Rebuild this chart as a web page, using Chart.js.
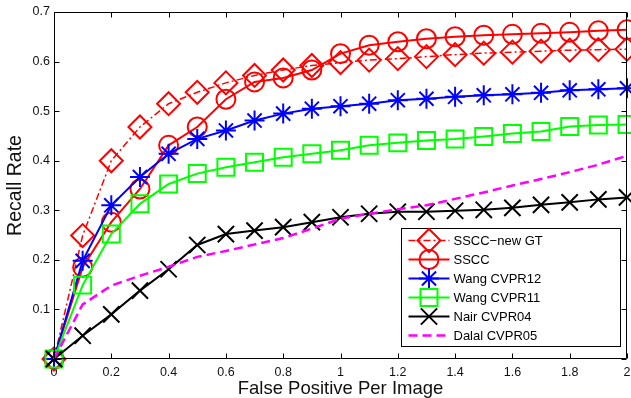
<!DOCTYPE html>
<html>
<head>
<meta charset="utf-8">
<script src="https://cdn.jsdelivr.net/npm/chart.js@4.4.1/dist/chart.umd.min.js"></script>
<style>
  html, body { margin: 0; padding: 0; background: #fff; }
  #wrap { width: 631px; height: 398px; position: relative; }
</style>
</head>
<body>
<div id="wrap"><canvas id="c" width="631" height="398"></canvas></div>
<script>
// ---- data ----
const fppi = [0, 0.1, 0.2, 0.3, 0.4, 0.5, 0.6, 0.7, 0.8, 0.9, 1.0, 1.1, 1.2, 1.3, 1.4, 1.5, 1.6, 1.7, 1.8, 1.9, 2.0];
const ssccNewGT = [0, 0.249, 0.400, 0.468, 0.515, 0.538, 0.557, 0.572, 0.583, 0.592, 0.598, 0.603, 0.606, 0.610, 0.614, 0.617, 0.619, 0.621, 0.623, 0.624, 0.625];
const sscc      = [0, 0.185, 0.276, 0.343, 0.431, 0.468, 0.524, 0.559, 0.567, 0.583, 0.616, 0.633, 0.640, 0.646, 0.650, 0.653, 0.655, 0.657, 0.659, 0.662, 0.664];
const wang12    = [0, 0.198, 0.310, 0.367, 0.414, 0.444, 0.461, 0.481, 0.495, 0.505, 0.510, 0.515, 0.522, 0.525, 0.529, 0.532, 0.534, 0.537, 0.542, 0.544, 0.546];
const wang11    = [0, 0.149, 0.252, 0.313, 0.353, 0.374, 0.387, 0.397, 0.407, 0.414, 0.421, 0.431, 0.436, 0.441, 0.444, 0.449, 0.455, 0.459, 0.469, 0.472, 0.473];
const nair04    = [0, 0.047, 0.090, 0.138, 0.181, 0.230, 0.252, 0.259, 0.266, 0.276, 0.286, 0.293, 0.297, 0.297, 0.299, 0.301, 0.305, 0.311, 0.316, 0.322, 0.326];
const dalal05   = [0, 0.110, 0.148, 0.168, 0.186, 0.206, 0.218, 0.231, 0.244, 0.263, 0.283, 0.293, 0.302, 0.310, 0.323, 0.336, 0.350, 0.363, 0.377, 0.392, 0.410];
const seriesNames = ['SSCC\u2212new GT', 'SSCC', 'Wang CVPR12', 'Wang CVPR11', 'Nair CVPR04', 'Dalal CVPR05'];
const xTickLabels = ['0', '0.2', '0.4', '0.6', '0.8', '1', '1.2', '1.4', '1.6', '1.8', '2'];
const yTickLabels = ['', '0.1', '0.2', '0.3', '0.4', '0.5', '0.6', '0.7'];

const pts = (arr) => fppi.map((x, i) => ({ x: x, y: arr[i] }));
const NONE = 'rgba(0,0,0,0)';

function ds(label, arr, color, style, radius, lineW, dash, order) {
  return {
    label: label, data: pts(arr),
    borderColor: color, backgroundColor: NONE,
    borderWidth: lineW, borderDash: dash,
    pointStyle: style, pointRadius: radius, pointHoverRadius: radius,
    pointBorderColor: color, pointBackgroundColor: NONE, pointBorderWidth: 2,
    tension: 0, fill: false, clip: false, order: order
  };
}

const datasets = [
  ds(seriesNames[0], ssccNewGT, '#ff0000', 'rectRot', 11.5, 1.5, [7, 3, 2, 3], 5),
  ds(seriesNames[1], sscc,      '#ff0000', 'circle', 9.5, 2, [], 4),
  ds(seriesNames[2], wang12,    '#0000ff', 'star', 10, 2, [], 3),
  ds(seriesNames[3], wang11,    '#00ff00', 'rect', 12, 2, [], 2),
  ds(seriesNames[4], nair04,    '#000000', 'crossRot', 11.5, 2, [], 1),
  ds(seriesNames[5], dalal05,   '#ff00ff', false, 0, 2.5, [9, 5], 0)
];

function drawMarker(ctx, style, x, y, r) {
  ctx.beginPath();
  if (style === 'rectRot') {
    ctx.moveTo(x - r, y); ctx.lineTo(x, y - r); ctx.lineTo(x + r, y); ctx.lineTo(x, y + r); ctx.closePath();
  } else if (style === 'circle') {
    ctx.arc(x, y, r, 0, Math.PI * 2);
  } else if (style === 'star') {
    for (let k = 0; k < 4; k++) {
      const a = k * Math.PI / 4;
      ctx.moveTo(x - Math.sin(a) * r, y - Math.cos(a) * r);
      ctx.lineTo(x + Math.sin(a) * r, y + Math.cos(a) * r);
    }
  } else if (style === 'rect') {
    const s = Math.SQRT1_2 * r;
    ctx.rect(x - s, y - s, 2 * s, 2 * s);
  } else if (style === 'crossRot') {
    const s = Math.SQRT1_2 * r;
    ctx.moveTo(x - s, y - s); ctx.lineTo(x + s, y + s);
    ctx.moveTo(x + s, y - s); ctx.lineTo(x - s, y + s);
  }
  ctx.stroke();
}

const framePlugin = {
  id: 'frame',
  afterDraw(chart) {
    const ctx = chart.ctx;
    const a = chart.chartArea;
    const xs = chart.scales.x, ys = chart.scales.y;
    const L = Math.round(a.left) + 0.5, R = Math.round(a.right) - 0.5;
    const T = Math.round(a.top) + 0.5, B = Math.round(a.bottom) - 0.5;
    ctx.save();
    ctx.strokeStyle = '#000';
    ctx.lineWidth = 1;
    ctx.setLineDash([]);
    ctx.beginPath();
    ctx.rect(L, T, R - L, B - T);
    const tl = 5;
    xs.ticks.forEach(t => {
      const px = Math.round(xs.getPixelForValue(t.value)) + 0.5;
      ctx.moveTo(px, B); ctx.lineTo(px, B - tl);
      ctx.moveTo(px, T); ctx.lineTo(px, T + tl);
    });
    ys.ticks.forEach(t => {
      const py = Math.round(ys.getPixelForValue(t.value)) + 0.5;
      ctx.moveTo(L, py); ctx.lineTo(L + tl, py);
      ctx.moveTo(R, py); ctx.lineTo(R - tl, py);
    });
    ctx.stroke();

    // legend box inside the plot area (bottom-right)
    const bw = 219, bh = 118;
    const bx = Math.round(a.right) - 7 - bw + 0.5;
    const by = Math.round(a.bottom) - 13 - bh + 0.5;
    ctx.fillStyle = '#fff';
    ctx.fillRect(bx, by, bw, bh);
    ctx.strokeStyle = '#000';
    ctx.lineWidth = 1;
    ctx.strokeRect(bx, by, bw, bh);
    ctx.font = '13px "Liberation Sans", Arial, sans-serif';
    ctx.textBaseline = 'middle';
    ctx.textAlign = 'left';
    chart.data.datasets.forEach((d, i) => {
      const cy = by + 12 + i * 19;
      const x0 = bx + 7, x1 = bx + 48, xm = (x0 + x1) / 2;
      ctx.strokeStyle = d.borderColor;
      ctx.lineWidth = d.borderWidth;
      ctx.setLineDash(d.borderDash || []);
      ctx.beginPath(); ctx.moveTo(x0, cy); ctx.lineTo(x1, cy); ctx.stroke();
      ctx.setLineDash([]);
      if (d.pointStyle) {
        ctx.lineWidth = d.pointBorderWidth;
        drawMarker(ctx, d.pointStyle, xm, cy, d.pointRadius);
      }
      ctx.fillStyle = '#000';
      ctx.fillText(d.label, bx + 52, cy + 0.5);
    });
    ctx.restore();
  }
};

const tickFont = { family: '"Liberation Sans", Arial, sans-serif', size: 12.5 };

new Chart(document.getElementById('c'), {
  type: 'line',
  data: { datasets: datasets },
  options: {
    responsive: false,
    animation: false,
    events: [],
    layout: { autoPadding: false, padding: { top: 12, right: 4, left: 0, bottom: 0 } },
    plugins: { legend: { display: false }, tooltip: { enabled: false } },
    scales: {
      x: {
        type: 'linear', min: 0, max: 2,
        grid: { display: false, drawTicks: false },
        border: { display: false },
        ticks: {
          stepSize: 0.2, padding: 6, color: '#111', font: tickFont, maxRotation: 0, autoSkip: false,
          callback: (v, i) => xTickLabels[i]
        },
        title: {
          display: true, text: 'False Positive Per Image', color: '#111',
          font: { family: '"Liberation Sans", Arial, sans-serif', size: 18.5 },
          padding: { top: 0, bottom: -2 }
        },
        afterFit: (s) => { s.height = 39; s.paddingLeft = 0; s.paddingRight = 0; }
      },
      y: {
        type: 'linear', min: 0, max: 0.7,
        grid: { display: false, drawTicks: false },
        border: { display: false },
        ticks: {
          stepSize: 0.1, padding: 4, color: '#111', font: tickFont, autoSkip: false,
          callback: (v, i) => yTickLabels[i]
        },
        title: {
          display: true, text: 'Recall Rate', color: '#111',
          font: { family: '"Liberation Sans", Arial, sans-serif', size: 19.5 },
          padding: { top: 4, bottom: 0 }
        },
        afterFit: (s) => { s.width = 54; s.paddingTop = 0; s.paddingBottom = 0; }
      }
    }
  },
  plugins: [framePlugin]
});
</script>
</body>
</html>
